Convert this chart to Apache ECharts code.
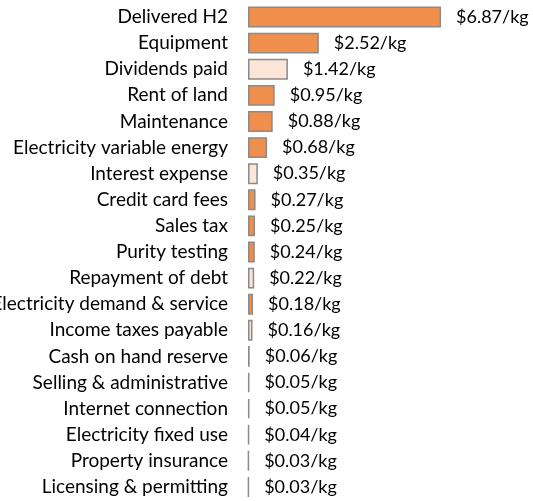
<!DOCTYPE html>
<html>
<head>
<meta charset="utf-8">
<script src="https://cdn.jsdelivr.net/npm/echarts@6/dist/echarts.min.js"></script>
<style>
  html, body { margin: 0; padding: 0; background: #fff; }
  #chart { width: 533px; height: 501px; }
</style>
</head>
<body>
<div id="chart"></div>
<script>
const categories = [
  'Delivered H2', 'Equipment', 'Dividends paid', 'Rent of land', 'Maintenance',
  'Electricity variable energy', 'Interest expense', 'Credit card fees', 'Sales tax',
  'Purity testing', 'Repayment of debt', 'Electricity demand & service',
  'Income taxes payable', 'Cash on hand reserve', 'Selling & administrative',
  'Internet connection', 'Electricity fixed use', 'Property insurance',
  'Licensing & permitting'
];
const values = [6.87, 2.52, 1.42, 0.95, 0.88, 0.68, 0.35, 0.27, 0.25, 0.24, 0.22,
  0.18, 0.16, 0.06, 0.05, 0.05, 0.04, 0.03, 0.03];
// 'c' = cost (solid orange), 'f' = financing (light fill)
const kinds = ['c', 'c', 'f', 'c', 'c', 'c', 'f', 'c', 'c', 'c', 'f',
  'c', 'f', 'c', 'c', 'c', 'c', 'c', 'c'];

const ORANGE = '#F08F4B';
const LIGHT = '#FBE5D6';
const FONT = 'Lato';

const chart = echarts.init(document.getElementById('chart'), null, { renderer: 'canvas' });

chart.setOption({
  animation: false,
  grid: {
    left: 248, right: 4, top: 4, bottom: 1,
    containLabel: false,
    outerBoundsMode: 'none' // let the long labels run off the left edge
  },
  xAxis: {
    type: 'value',
    min: 0,
    max: 10,
    show: false
  },
  yAxis: {
    type: 'category',
    data: categories,
    inverse: true,
    axisLine: { show: false },
    axisTick: { show: false },
    axisLabel: {
      margin: 20,
      color: '#000',
      fontFamily: FONT,
      fontSize: 19
    }
  },
  series: [{
    type: 'bar',
    barWidth: '80%',
    data: values.map((v, i) => ({
      value: v,
      itemStyle: { color: kinds[i] === 'f' ? LIGHT : ORANGE }
    })),
    itemStyle: { borderColor: '#8a8a8a', borderWidth: 1.5 },
    label: {
      show: true,
      position: 'right',
      distance: 15,
      color: '#000',
      fontFamily: FONT,
      fontSize: 18,
      formatter: p => '$' + p.value.toFixed(2) + '/kg'
    }
  }]
});
</script>
</body>
</html>
